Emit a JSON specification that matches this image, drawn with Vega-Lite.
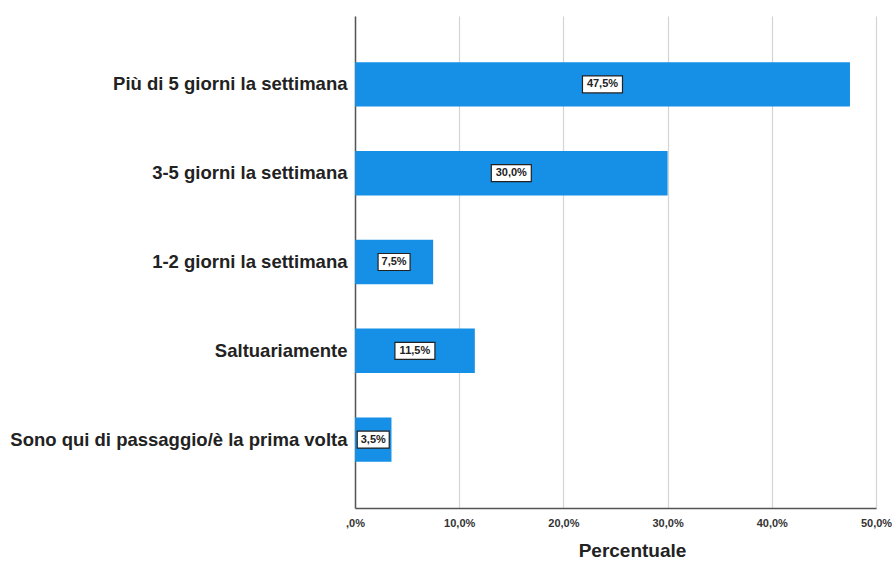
{
  "$schema": "https://vega.github.io/schema/vega-lite/v6.json",
  "width": 521,
  "height": 492,
  "autosize": {"type": "none"},
  "padding": {"left": 355, "top": 16, "right": 16, "bottom": 54},
  "background": "white",
  "config": {
    "view": {"stroke": null},
    "font": "Liberation Sans"
  },
  "data": {
    "values": [
      {"cat": "Più di 5 giorni la settimana", "pct": 47.5, "label": "47,5%"},
      {"cat": "3-5 giorni la settimana", "pct": 30.0, "label": "30,0%"},
      {"cat": "1-2 giorni la settimana", "pct": 7.5, "label": "7,5%"},
      {"cat": "Saltuariamente", "pct": 11.5, "label": "11,5%"},
      {"cat": "Sono qui di passaggio/è la prima volta", "pct": 3.5, "label": "3,5%"}
    ]
  },
  "transform": [
    {"calculate": "length(datum.label)", "as": "len"},
    {"calculate": "datum.pct / 2", "as": "mid"}
  ],
  "encoding": {
    "y": {
      "field": "cat",
      "type": "nominal",
      "sort": null,
      "scale": {"paddingInner": 0.5, "paddingOuter": 0.52},
      "axis": {
        "title": null,
        "ticks": false,
        "labelFont": "Liberation Sans",
        "labelFontSize": 18.5,
        "labelFontWeight": "bold",
        "labelColor": "#222222",
        "labelPadding": 8,
        "labelLimit": 400,
        "domainColor": "#555555",
        "domainWidth": 1.5,
        "grid": false
      }
    }
  },
  "layer": [
    {
      "mark": {"type": "bar", "color": "#1590E6"},
      "encoding": {
        "x": {
          "field": "pct",
          "type": "quantitative",
          "scale": {"domain": [0, 50], "nice": false},
          "axis": {
            "title": "Percentuale",
            "titleFont": "Liberation Sans",
            "titleFontSize": 19,
            "titleFontWeight": "bold",
            "titleColor": "#222222",
            "titlePadding": 13,
            "titleX": 277,
            "values": [0, 10, 20, 30, 40, 50],
            "labelExpr": "datum.value == 0 ? ',0%' : replace(format(datum.value, '.1f'), '.', ',') + '%'",
            "labelFontSize": 11,
            "labelFontWeight": "bold",
            "labelColor": "#333333",
            "labelPadding": 9,
            "labelFlush": false,
            "ticks": false,
            "grid": true,
            "gridColor": "#d4d4d4",
            "gridWidth": 1.2,
            "domainColor": "#555555",
            "domainWidth": 1.5
          }
        }
      }
    },
    {
      "mark": {"type": "point", "filled": true, "fill": "white", "stroke": "#222222", "strokeWidth": 1.2, "opacity": 1, "size": 400},
      "encoding": {
        "x": {"field": "mid", "type": "quantitative"},
        "shape": {
          "field": "len",
          "type": "ordinal",
          "legend": null,
          "scale": {"domain": [4, 5], "range": ["M-1.6,-0.85H1.6V0.85H-1.6Z", "M-2,-0.85H2V0.85H-2Z"]}
        }
      }
    },
    {
      "mark": {"type": "text", "font": "Liberation Sans", "fontSize": 11, "fontWeight": "bold", "color": "#222222", "align": "center", "baseline": "middle"},
      "encoding": {
        "x": {"field": "mid", "type": "quantitative"},
        "text": {"field": "label"}
      }
    }
  ]
}
